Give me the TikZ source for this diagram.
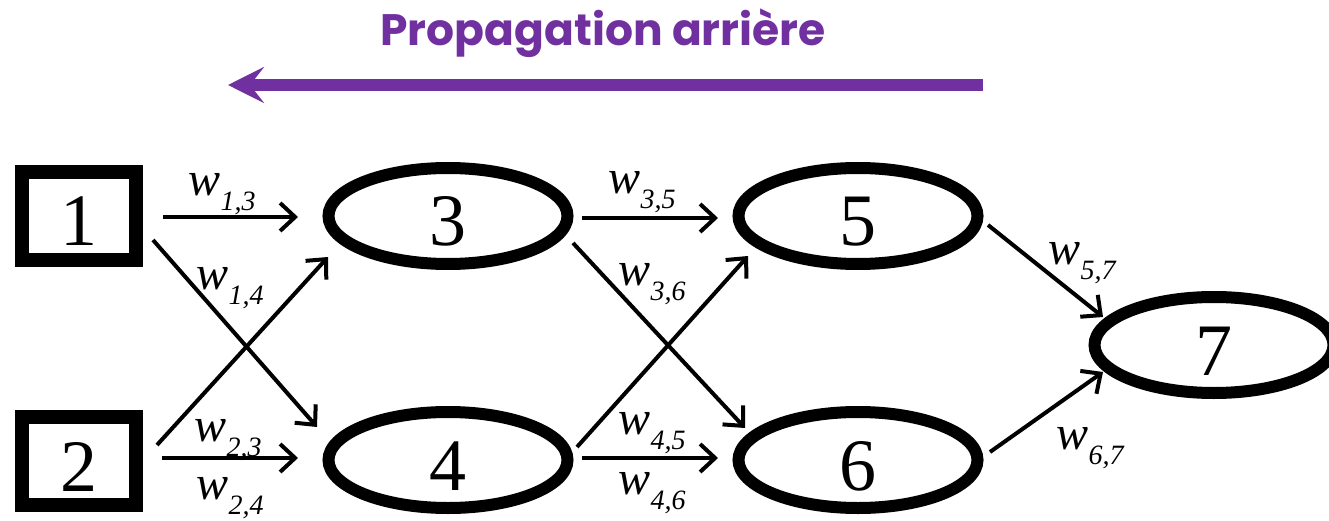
\documentclass[tikz,border=0pt]{standalone}
\usepackage{fontspec}
\setmainfont{Liberation Serif}
\newfontfamily\titlefont{Poppins}
\usetikzlibrary{shapes.geometric,arrows.meta}
\definecolor{purp}{HTML}{7030A0}
\newcommand\wlab[1]{{\fontsize{48}{48}\selectfont\itshape w}\raisebox{-15pt}{\fontsize{28}{28}\selectfont\itshape #1}}
\begin{document}
\begin{tikzpicture}[x=1pt,y=-1pt,
  inbox/.style={draw, line width=14pt, minimum width=114pt, minimum height=88pt, inner sep=0pt,
    text height=60pt, text depth=0pt, font=\fontsize{74}{74}\selectfont},
  hid/.style={draw, ellipse, line width=12pt, minimum width=239pt, minimum height=96pt, inner sep=0pt,
    text height=60pt, text depth=0pt, font=\fontsize{74}{74}\selectfont},
  conn/.style={line width=4pt, -{Straight Barb[length=15pt,width=28pt]}},
  wl/.style={inner sep=0pt}
]
\useasboundingbox (0,0) rectangle (1329,521);
\clip (0,0) rectangle (1329,521);

% title and big arrow
\node[font=\titlefont\bfseries\fontsize{44}{44}\selectfont, text=purp] (title) at (603,33) {Propagation arrière};
\coordinate (pa) at (983,85);
\coordinate (pb) at (228,85);
\draw[line width=12pt, purp, -{Stealth[length=36pt,width=36pt,inset=14pt]}] (pa) -- (pb);

% nodes
\node[inbox] (n1) at (79,216) {1};
\node[inbox] (n2) at (79,461) {2};
\node[hid] (n3) at (448,216) {3};
\node[hid] (n4) at (448,460) {4};
\node[hid] (n5) at (858,216) {5};
\node[hid] (n6) at (858,460) {6};
\node[hid] (n7) at (1214,345) {7};

% connectors
\draw[conn] ([shift={(84,1)}]n1.center) -- ([shift={(-150,1)}]n3.center);
\draw[conn] ([shift={(74,24)}]n1.center) -- ([shift={(-131,-33)}]n4.center);
\draw[conn] ([shift={(78,-16)}]n2.center) -- ([shift={(-120,41)}]n3.center);
\draw[conn] ([shift={(83,-3)}]n2.center) -- ([shift={(-150,-2)}]n4.center);
\draw[conn] ([shift={(134,2)}]n3.center) -- ([shift={(-140,2)}]n5.center);
\draw[conn] ([shift={(125,27)}]n3.center) -- ([shift={(-113,-32)}]n6.center);
\draw[conn] ([shift={(129,-13)}]n4.center) -- ([shift={(-110,40)}]n5.center);
\draw[conn] ([shift={(134,-2)}]n4.center) -- ([shift={(-140,-2)}]n6.center);
\draw[conn] ([shift={(130,9)}]n5.center) -- ([shift={(-111,-28)}]n7.center);
\draw[conn] ([shift={(132,-8)}]n6.center) -- ([shift={(-111,27)}]n7.center);

% labels
\node[wl] (l13) at (222,194) {\wlab{1,3}};
\node[wl] (l14) at (230,288) {\wlab{1,4}};
\node[wl] (l23) at (228,440) {\wlab{2,3}};
\node[wl] (l24) at (230,498) {\wlab{2,4}};
\node[wl] (l35) at (642,192) {\wlab{3,5}};
\node[wl] (l36) at (652,284) {\wlab{3,6}};
\node[wl] (l45) at (652,433) {\wlab{4,5}};
\node[wl] (l46) at (652,493) {\wlab{4,6}};
\node[wl] (l57) at (1082,263) {\wlab{5,7}};
\node[wl] (l67) at (1090,448) {\wlab{6,7}};
\end{tikzpicture}
\end{document}
